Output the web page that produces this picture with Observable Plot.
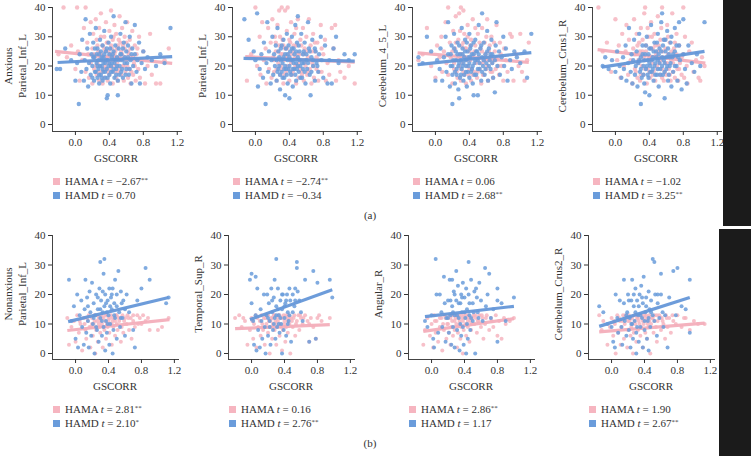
<!DOCTYPE html>
<html><head><meta charset="utf-8">
<script src="https://cdn.jsdelivr.net/npm/d3@7"></script>
<script src="https://cdn.jsdelivr.net/npm/@observablehq/plot@0.6"></script>
<style>
body{margin:0;background:#fff;}
#root{position:relative;width:751px;height:456px;overflow:hidden;font-family:"Liberation Serif","DejaVu Serif",serif;color:#333;font-size:11px;background:#fff;}
.abs{position:absolute;}
.ylab{position:absolute;transform:translate(-50%,-50%) rotate(-90deg);white-space:nowrap;text-align:center;line-height:14px;}
.xlab{position:absolute;transform:translate(-50%,-50%);white-space:nowrap;}
.leg{position:absolute;white-space:nowrap;line-height:14px;transform:translateY(-50%);font-size:11px;}
.sq{display:inline-block;width:7px;height:7px;margin-right:5px;vertical-align:0px;}
sup{font-size:0.65em;vertical-align:0.45em;line-height:0;}
.bar{position:absolute;background:#1b1b1b;}
</style></head>
<body><div id="root"></div>
<script>
// ---------- data ----------
const rowLabels = ["Anxious", "Nonanxious"];
const regions = ["Parietal_Inf_L","Parietal_Inf_L","Cerebelum_4_5_L","Cerebelum_Crus1_R","Parietal_Inf_L","Temporal_Sup_R","Angular_R","Cerebelum_Crus2_R"];
const xTicks = [0, 0.4, 0.8, 1.2];
const yTicks = [0, 10, 20, 30, 40];
const tHama = ["−2.67","−2.74","0.06","−1.02","2.81","0.16","2.86","1.90"];
const starsHama = ["**","**","","","**","","**",""];
const tHamd = ["0.70","−0.34","2.68","3.25","2.10","2.76","1.17","2.67"];
const starsHamd = ["","","**","**","*","**","","**"];
const panelTags = ["(a)", "(b)"];

// regression lines: x start/end and y start/end
const hamaX0 = [-0.24,-0.12,-0.21,-0.21,-0.10,-0.20,-0.10,-0.15];
const hamaX1 = [1.14,1.17,1.10,1.06,1.14,0.95,1.00,1.13];
const hamaY0 = [25.0,23.2,24.5,25.6,7.8,8.4,7.5,7.3];
const hamaY1 = [20.9,21.3,21.2,21.0,11.5,9.8,11.8,10.3];
const hamdX0 = [-0.21,-0.14,-0.21,-0.16,-0.09,-0.02,-0.08,-0.15];
const hamdX1 = [1.14,1.17,1.13,1.05,1.13,0.98,1.00,0.95];
const hamdY0 = [21.2,22.6,20.5,19.6,10.8,11.5,12.5,9.2];
const hamdY1 = [23.2,21.7,24.6,25.0,19.0,21.6,16.0,19.0];

const a1Hama = [[-.2,24],[-.14,40],[-.1,23],[-.05,27],[.02,40],[.0,19],[.03,25],[.05,15],[.08,22],[.1,33],[.12,40],[.12,18],[.14,28],[.15,24],[.16,16],[.18,35],[.18,21],[.2,14],[.2,26],[.21,31],[.22,19],[.23,23],[.24,36],[.25,17],[.25,29],[.26,21],[.27,25],[.28,15],[.28,33],[.29,20],[.3,38],[.3,24],[.31,18],[.32,27],[.32,14],[.33,22],[.34,30],[.34,16],[.35,25],[.36,19],[.36,35],[.37,23],[.38,15],[.38,28],[.39,21],[.4,32],[.4,17],[.41,24],[.42,39],[.42,20],[.43,26],[.44,14],[.44,29],[.45,22],[.46,18],[.46,34],[.47,25],[.48,16],[.48,31],[.49,21],[.5,27],[.5,15],[.51,23],[.52,37],[.52,19],[.53,28],[.54,17],[.55,24],[.55,33],[.56,20],[.57,15],[.58,26],[.58,30],[.59,18],[.6,22],[.61,35],[.62,16],[.62,25],[.63,19],[.64,29],[.65,14],[.66,23],[.67,32],[.68,17],[.69,21],[.7,27],[.71,15],[.72,24],[.74,19],[.75,30],[.76,16],[.78,22],[.8,25],[.82,14],[.85,20],[.88,31],[.9,17],[.95,14],[1.0,14],[1.05,22],[1.1,26],
  [.22,24],[.24,20],[.26,27],[.27,18],[.29,23],[.3,30],[.31,22],[.33,19],[.34,26],[.35,20],[.37,28],[.38,18],[.39,25],[.41,19],[.42,27],[.43,22],[.45,30],[.46,24],[.47,20],[.49,26],[.5,18],[.51,29],[.53,22],[.54,25],[.56,27],[.57,20],[.59,23],[.6,28],[.61,20],[.63,24],[.65,26],[.66,18],[.68,23],[.7,20],[.73,26]];
const a1Hamd = [[-.22,19],[-.18,19],[-.12,26],[-.05,22],[.0,15],[.02,21],[.04,7],[.05,24],[.07,18],[.08,29],[.1,15],[.11,22],[.12,36],[.13,19],[.14,26],[.15,13],[.16,21],[.17,31],[.18,17],[.19,24],[.2,20],[.21,28],[.22,15],[.22,23],[.23,18],[.24,33],[.25,21],[.26,16],[.26,26],[.27,19],[.28,24],[.28,14],[.29,29],[.3,17],[.3,22],[.31,20],[.32,27],[.32,15],[.33,23],[.33,18],[.34,32],[.35,21],[.35,16],[.36,25],[.37,9],[.37,19],[.38,10],[.38,22],[.39,28],[.4,17],[.4,24],[.41,14],[.42,20],[.42,30],[.43,23],[.44,18],[.45,37],[.45,25],[.46,16],[.46,21],[.47,27],[.48,19],[.49,23],[.5,10],[.5,15],[.51,26],[.52,20],[.53,31],[.54,18],[.54,24],[.55,22],[.56,16],[.57,28],[.58,21],[.59,35],[.6,19],[.6,25],[.62,23],[.63,17],[.64,30],[.65,22],[.66,14],[.67,26],[.68,20],[.7,34],[.7,24],[.72,18],[.73,22],[.75,28],[.76,14],[.78,21],[.8,25],[.82,19],[.85,23],[.9,22],[.95,20],[1.0,24],[1.05,21],[1.12,33],
  [.2,16],[.21,23],[.23,26],[.24,18],[.25,24],[.26,20],[.27,22],[.28,17],[.29,20],[.3,25],[.31,16],[.31,23],[.32,19],[.33,21],[.34,24],[.35,18],[.36,22],[.37,26],[.38,16],[.39,20],[.4,21],[.41,26],[.42,18],[.43,21],[.44,24],[.45,19],[.47,22],[.48,17],[.49,20],[.51,22],[.52,17],[.53,24],[.55,19],[.56,26],[.58,23],[.59,17],[.61,21],[.62,27],[.64,19],[.66,24]];
const a2Hama = [[-.1,15],[-.05,24],[.0,40],[.02,20],[.05,30],[.06,17],[.08,35],[.1,22],[.12,26],[.13,14],[.15,33],[.16,19],[.18,28],[.19,16],[.2,36],[.21,23],[.22,18],[.23,30],[.24,25],[.25,15],[.26,34],[.27,21],[.28,39],[.28,27],[.29,17],[.3,24],[.31,40],[.31,19],[.32,29],[.33,14],[.34,22],[.35,39],[.35,26],[.36,18],[.37,32],[.38,20],[.38,40],[.39,24],[.4,15],[.41,28],[.42,21],[.42,35],[.43,17],[.44,25],[.45,19],[.46,31],[.47,23],[.48,14],[.48,27],[.49,20],[.5,36],[.51,16],[.52,24],[.53,29],[.54,18],[.55,22],[.56,33],[.57,15],[.58,26],[.59,20],[.6,30],[.61,17],[.62,23],[.63,36],[.64,19],[.65,27],[.66,14],[.67,21],[.68,31],[.69,16],[.7,25],[.72,19],[.73,28],[.74,15],[.75,22],[.77,34],[.78,18],[.8,24],[.82,29],[.83,15],[.85,21],[.87,17],[.9,33],[.92,26],[.94,34],[.95,15],[.98,22],[1.0,18],[1.05,16],[1.1,20],[1.17,14],
  [.22,22],[.24,28],[.25,19],[.27,25],[.29,30],[.3,20],[.32,24],[.33,27],[.34,17],[.36,23],[.37,26],[.39,19],[.4,29],[.41,22],[.43,24],[.44,18],[.45,27],[.47,20],[.48,33],[.5,24],[.51,21],[.53,19],[.54,27],[.55,17],[.57,24],[.58,21],[.6,25],[.62,18],[.64,22],[.66,25],[.68,20],[.7,28],[.72,23],[.75,18],[.78,26]];
const a2Hamd = [[-.13,36],[-.08,29],[-.02,25],[.0,22],[.02,38],[.03,13],[.05,19],[.07,24],[.09,16],[.1,28],[.12,7],[.13,21],[.14,35],[.15,18],[.16,25],[.18,14],[.19,22],[.2,30],[.21,17],[.22,24],[.23,20],[.24,27],[.25,15],[.26,33],[.27,19],[.28,23],[.29,12],[.3,26],[.31,18],[.32,21],[.33,29],[.34,16],[.35,10],[.35,24],[.36,19],[.37,31],[.38,22],[.38,14],[.39,27],[.4,9],[.4,20],[.41,25],[.42,17],[.43,30],[.44,22],[.44,13],[.45,26],[.46,19],[.47,34],[.48,21],[.48,15],[.49,28],[.5,37],[.5,23],[.51,18],[.52,25],[.53,20],[.54,31],[.55,16],[.56,24],[.57,21],[.58,28],[.59,14],[.6,22],[.61,19],[.62,35],[.63,26],[.64,17],[.65,10],[.66,23],[.67,29],[.68,20],[.7,15],[.71,25],[.72,21],[.74,18],[.75,24],[.77,30],[.78,22],[.8,16],[.82,27],[.85,14],[.87,22],[.9,14],[.92,26],[.95,30],[.98,21],[1.05,24],[1.1,22],[1.17,24],
  [.25,22],[.26,18],[.27,25],[.28,20],[.29,17],[.3,22],[.31,27],[.32,16],[.33,23],[.34,19],[.35,20],[.36,26],[.37,17],[.38,24],[.39,19],[.4,23],[.41,18],[.42,22],[.43,26],[.44,19],[.45,21],[.46,24],[.47,17],[.48,25],[.49,19],[.5,20],[.51,27],[.52,22],[.53,16],[.55,21],[.56,19],[.57,25],[.58,18],[.6,24],[.62,21],[.64,25],[.66,18],[.68,22],[.7,26],[.73,20]];
const a3Hama = [[-.2,22],[-.15,24],[-.1,33],[-.05,20],[.0,16],[.02,27],[.05,23],[.07,30],[.08,18],[.1,25],[.12,35],[.13,21],[.15,40],[.15,17],[.17,28],[.18,23],[.2,14],[.21,32],[.22,19],[.23,26],[.24,37],[.25,22],[.26,16],[.27,29],[.28,38],[.28,20],[.29,24],[.3,40],[.3,15],[.31,27],[.32,21],[.33,39],[.33,18],[.34,31],[.35,23],[.36,14],[.36,26],[.37,20],[.38,34],[.39,17],[.4,25],[.41,22],[.42,29],[.42,15],[.43,19],[.44,36],[.45,24],[.46,18],[.47,27],[.48,21],[.49,16],[.5,31],[.51,23],[.52,19],[.53,26],[.54,14],[.55,33],[.56,21],[.57,17],[.58,28],[.59,24],[.6,19],[.61,36],[.62,15],[.63,22],[.64,27],[.65,18],[.66,30],[.67,21],[.68,16],[.7,25],[.71,19],[.72,34],[.73,23],[.75,17],[.76,28],[.78,20],[.8,15],[.81,26],[.83,22],[.85,18],[.88,31],[.9,30],[.92,15],[.95,24],[.98,20],[1.0,31],[1.02,18],[1.05,15],[1.08,22],[1.1,28],
  [.2,25],[.22,21],[.24,28],[.25,18],[.27,23],[.29,32],[.3,19],[.31,24],[.33,28],[.34,17],[.35,26],[.37,22],[.38,30],[.4,19],[.41,27],[.43,23],[.44,17],[.46,25],[.47,33],[.49,22],[.5,18],[.52,28],[.53,21],[.55,25],[.56,17],[.58,22],[.6,30],[.61,20],[.63,25],[.65,23],[.67,18],[.69,28],[.71,22],[.74,20],[.77,24]];
const a3Hamd = [[-.2,23],[-.15,21],[-.1,30],[-.05,25],[.0,15],[.02,22],[.05,19],[.06,26],[.08,15],[.1,23],[.12,30],[.13,18],[.15,35],[.15,24],[.17,13],[.18,20],[.19,27],[.2,7],[.2,17],[.21,22],[.22,31],[.23,14],[.24,25],[.25,19],[.26,28],[.27,12],[.28,9],[.28,21],[.29,24],[.3,17],[.31,33],[.32,20],[.32,26],[.33,15],[.34,23],[.35,29],[.36,18],[.36,22],[.37,13],[.38,25],[.39,20],[.4,31],[.4,16],[.41,23],[.42,27],[.43,19],[.44,14],[.45,10],[.45,24],[.46,21],[.47,29],[.48,17],[.49,25],[.5,10],[.5,22],[.51,34],[.52,19],[.53,26],[.54,15],[.55,38],[.55,23],[.56,20],[.57,28],[.58,17],[.59,24],[.6,21],[.61,32],[.62,15],[.63,26],[.64,22],[.65,19],[.66,29],[.67,24],[.68,16],[.7,11],[.7,22],[.71,27],[.72,35],[.73,20],[.75,25],[.76,17],[.78,23],[.8,30],[.81,20],[.83,26],[.85,15],[.88,22],[.9,19],[.93,25],[.96,23],[1.0,21],[1.05,25],[1.08,16],[1.13,31],
  [.18,24],[.2,20],[.22,26],[.23,18],[.24,22],[.25,17],[.26,24],[.27,20],[.28,27],[.29,16],[.3,22],[.31,19],[.32,24],[.33,21],[.34,17],[.35,25],[.36,20],[.37,28],[.38,18],[.39,23],[.4,21],[.41,26],[.42,18],[.43,24],[.44,20],[.45,28],[.46,17],[.47,22],[.48,25],[.5,19],[.51,24],[.52,21],[.54,27],[.55,18],[.57,22],[.59,19],[.61,25],[.63,20],[.65,24],[.67,21]];
const a4Hama = [[-.2,40],[-.15,25],[-.1,28],[-.05,18],[.0,36],[.02,22],[.04,27],[.06,16],[.08,31],[.1,20],[.12,25],[.13,34],[.15,17],[.16,29],[.18,22],[.2,14],[.21,26],[.22,36],[.23,19],[.24,24],[.25,31],[.26,16],[.27,22],[.28,28],[.29,15],[.3,33],[.31,20],[.32,25],[.33,17],[.34,38],[.35,40],[.35,22],[.36,27],[.37,14],[.38,19],[.39,30],[.4,23],[.41,16],[.42,35],[.43,21],[.44,26],[.45,18],[.46,31],[.47,15],[.48,24],[.49,20],[.5,37],[.51,27],[.52,17],[.53,22],[.54,33],[.55,40],[.55,19],[.56,25],[.57,15],[.58,29],[.59,21],[.6,17],[.61,34],[.62,24],[.63,19],[.64,28],[.65,15],[.66,22],[.67,38],[.68,18],[.69,26],[.7,16],[.71,23],[.72,31],[.73,19],[.74,15],[.75,27],[.76,21],[.78,17],[.8,40],[.8,24],[.81,16],[.82,30],[.84,20],[.85,14],[.87,25],[.9,28],[.92,18],[.95,22],[.98,16],[1.0,15],[1.02,23],[1.05,20],
  [.22,24],[.24,18],[.26,27],[.27,21],[.29,25],[.3,17],[.32,29],[.33,23],[.35,19],[.36,25],[.38,33],[.39,22],[.4,18],[.42,26],[.43,30],[.44,17],[.46,23],[.47,27],[.49,19],[.5,25],[.52,21],[.53,29],[.55,16],[.56,23],[.58,18],[.59,26],[.61,21],[.62,30],[.64,17],[.66,25],[.68,21],[.7,28],[.72,24],[.75,19],[.78,23]];
const a4Hamd = [[-.15,20],[-.12,23],[-.08,19],[-.04,22],[.0,18],[.02,25],[.05,20],[.07,16],[.09,23],[.1,19],[.12,27],[.13,15],[.15,21],[.16,33],[.18,18],[.19,24],[.2,14],[.21,22],[.22,29],[.23,17],[.24,20],[.25,25],[.26,13],[.27,21],[.28,31],[.29,18],[.3,7],[.3,23],[.31,16],[.32,27],[.33,20],[.34,14],[.35,11],[.35,24],[.36,19],[.37,30],[.38,22],[.39,16],[.4,10],[.4,26],[.41,20],[.42,34],[.43,18],[.44,23],[.45,15],[.46,28],[.47,21],[.48,25],[.49,17],[.5,31],[.5,22],[.51,13],[.52,26],[.53,19],[.54,35],[.55,38],[.55,23],[.56,17],[.57,29],[.58,9],[.58,21],[.59,25],[.6,19],[.61,32],[.62,15],[.63,24],[.64,20],[.65,28],[.66,13],[.67,23],[.68,18],[.7,33],[.7,25],[.72,20],[.73,15],[.75,35],[.75,27],[.76,22],[.78,12],[.8,36],[.8,24],[.82,19],[.84,14],[.86,27],[.9,21],[.93,18],[.96,24],[1.0,20],[1.05,35],
  [.28,22],[.3,19],[.32,24],[.33,17],[.34,22],[.36,27],[.37,20],[.38,17],[.39,24],[.4,21],[.41,18],[.42,26],[.43,22],[.44,19],[.45,25],[.46,20],[.47,17],[.48,23],[.49,28],[.5,19],[.51,24],[.52,21],[.53,17],[.54,25],[.55,20],[.56,27],[.57,22],[.58,18],[.59,29],[.6,23],[.61,20],[.62,26],[.63,17],[.64,23],[.65,21],[.66,30],[.68,24],[.7,20],[.72,27],[.74,23]];
const b1Hama = [[-.1,12],[-.08,3],[-.05,9],[-.02,11],[.0,4],[.02,13],[.04,7],[.06,10],[.08,1],[.1,12],[.12,8],[.13,5],[.15,11],[.16,13],[.18,2],[.19,9],[.2,12],[.21,6],[.22,10],[.23,13],[.24,0],[.25,8],[.26,11],[.27,4],[.28,12],[.29,9],[.3,7],[.31,13],[.32,10],[.33,2],[.34,12],[.35,8],[.36,11],[.37,5],[.38,13],[.39,9],[.4,12],[.41,7],[.42,10],[.43,13],[.44,3],[.45,11],[.46,9],[.47,12],[.48,6],[.49,13],[.5,10],[.51,8],[.52,12],[.53,11],[.55,4],[.56,9],[.57,13],[.58,7],[.6,12],[.62,10],[.63,13],[.65,8],[.67,12],[.68,5],[.7,11],[.72,9],[.75,13],[.78,12],[.8,10],[.82,13],[.85,11],[.9,8],[1.0,8],[1.05,9],[1.13,12],
  [.05,11],[.11,10],[.14,12],[.17,9],[.2,10],[.23,11],[.26,13],[.28,10],[.3,11],[.32,12],[.34,9],[.36,13],[.38,10],[.4,11],[.42,12],[.44,10],[.46,12],[.48,11],[.5,13],[.54,12],[.59,11],[.64,12],[.7,13],[.76,10],[.88,12]];
const b1Hamd = [[-.08,25],[-.05,11],[-.02,16],[.0,5],[.02,20],[.03,2],[.05,13],[.07,18],[.08,9],[.1,3],[.11,15],[.12,25],[.13,7],[.14,19],[.15,11],[.16,2],[.17,21],[.18,14],[.19,6],[.2,24],[.21,10],[.22,17],[.23,0],[.24,13],[.25,20],[.26,8],[.27,15],[.28,4],[.29,22],[.3,31],[.3,12],[.31,18],[.32,6],[.33,14],[.34,27],[.34,9],[.35,32],[.35,16],[.36,1],[.36,20],[.37,11],[.38,14],[.38,7],[.39,18],[.4,13],[.41,22],[.41,3],[.42,10],[.43,19],[.44,15],[.45,0],[.45,22],[.46,8],[.47,17],[.48,25],[.48,12],[.5,20],[.5,5],[.52,28],[.53,14],[.54,9],[.55,21],[.56,17],[.57,12],[.58,18],[.6,6],[.62,20],[.65,14],[.7,8],[.72,2],[.75,18],[.8,22],[.85,29],[.9,25],[1.1,17],[1.13,19],
  [.15,16],[.22,12],[.25,9],[.27,19],[.3,15],[.32,11],[.33,21],[.37,17],[.39,10],[.42,16],[.44,20],[.47,13],[.5,16],[.55,12],[.6,15]];
const b2Hama = [[-.2,12],[-.15,13],[-.12,9],[-.08,11],[-.05,3],[-.02,8],[.0,12],[.02,5],[.03,10],[.05,13],[.06,2],[.08,9],[.1,11],[.11,6],[.12,13],[.14,8],[.15,12],[.16,3],[.18,10],[.19,13],[.2,7],[.21,11],[.22,0],[.23,9],[.24,12],[.25,5],[.26,10],[.27,13],[.28,8],[.29,11],[.3,3],[.31,12],[.32,9],[.33,13],[.34,6],[.35,10],[.36,12],[.37,1],[.38,8],[.39,13],[.4,11],[.41,4],[.42,9],[.43,12],[.44,7],[.45,13],[.46,10],[.47,0],[.48,12],[.5,9],[.52,13],[.53,6],[.55,11],[.57,13],[.58,8],[.6,12],[.62,10],[.65,13],[.68,11],[.7,4],[.72,12],[.75,9],[.78,5],[.8,12],[.85,11],[.95,12],
  [-.1,12],[.01,11],[.07,12],[.13,10],[.17,12],[.2,13],[.23,11],[.25,12],[.28,13],[.3,10],[.32,11],[.34,13],[.36,9],[.38,12],[.4,10],[.42,13],[.44,11],[.46,12],[.49,11],[.51,12],[.54,10],[.59,13],[.63,12],[.7,10],[.82,13]];
const b2Hamd = [[-.02,25],[.0,27],[.0,17],[.02,11],[.03,3],[.05,26],[.05,13],[.06,1],[.07,22],[.08,8],[.1,2],[.11,15],[.12,11],[.13,5],[.15,20],[.16,9],[.17,0],[.18,13],[.19,20],[.2,6],[.21,17],[.22,11],[.23,3],[.24,22],[.25,14],[.26,8],[.27,19],[.28,12],[.28,25],[.29,5],[.3,32],[.3,16],[.31,9],[.32,22],[.33,13],[.34,7],[.35,18],[.36,10],[.37,0],[.37,15],[.38,20],[.39,8],[.4,12],[.41,17],[.42,6],[.43,20],[.44,14],[.45,11],[.46,22],[.47,18],[.48,4],[.5,20],[.52,16],[.53,22],[.55,29],[.55,31],[.56,21],[.58,18],[.6,14],[.62,11],[.65,25],[.7,4],[.75,28],[.78,5],[.8,24],[.95,25],[.98,19],
  [.2,12],[.22,9],[.25,18],[.27,10],[.3,13],[.32,15],[.33,10],[.35,12],[.37,20],[.4,16],[.42,18],[.44,10],[.46,13],[.5,14],[.53,18]];
const b3Hama = [[-.1,3],[-.08,8],[-.05,12],[-.02,6],[.0,10],[.02,2],[.03,13],[.05,7],[.06,11],[.08,4],[.1,9],[.12,12],[.13,1],[.15,8],[.16,13],[.18,5],[.19,10],[.2,12],[.21,7],[.22,13],[.23,3],[.24,9],[.25,11],[.26,6],[.27,13],[.28,8],[.29,12],[.3,10],[.31,2],[.32,7],[.33,13],[.34,11],[.35,5],[.36,9],[.37,12],[.38,0],[.39,8],[.4,13],[.41,10],[.42,6],[.43,12],[.44,9],[.45,13],[.46,4],[.47,11],[.48,8],[.5,12],[.52,10],[.53,13],[.55,7],[.56,11],[.58,13],[.6,9],[.62,12],[.63,5],[.65,10],[.67,13],[.7,8],[.72,12],[.75,9],[.78,13],[.8,6],[.82,11],[.85,5],[.9,10],[.95,11],[1.0,12],
  [.04,11],[.1,12],[.14,10],[.17,12],[.2,10],[.23,12],[.25,13],[.28,11],[.3,13],[.32,12],[.34,10],[.36,13],[.38,11],[.4,12],[.42,13],[.44,11],[.46,12],[.49,10],[.51,13],[.54,12],[.57,11],[.61,13],[.66,12],[.73,11],[.88,12]];
const b3Hamd = [[-.08,11],[-.05,9],[.0,13],[.02,5],[.03,2],[.05,32],[.06,20],[.08,7],[.1,20],[.12,14],[.13,9],[.15,26],[.16,17],[.17,4],[.18,12],[.2,18],[.21,7],[.22,25],[.23,13],[.24,3],[.25,25],[.25,16],[.26,9],[.27,21],[.28,2],[.28,13],[.3,28],[.3,18],[.31,8],[.32,23],[.33,12],[.34,1],[.35,17],[.36,6],[.36,20],[.37,14],[.38,9],[.38,24],[.39,3],[.4,19],[.41,12],[.42,0],[.42,22],[.43,15],[.44,5],[.45,31],[.45,20],[.46,13],[.47,8],[.48,25],[.5,17],[.5,11],[.52,21],[.53,0],[.55,19],[.56,14],[.58,24],[.6,18],[.62,11],[.65,29],[.66,16],[.68,20],[.7,27],[.72,12],[.75,15],[.8,22],[.8,18],[.8,4],[.85,17],[.9,11],[1.0,19],
  [.2,12],[.23,18],[.26,14],[.28,20],[.31,13],[.33,17],[.35,10],[.37,19],[.4,14],[.43,10],[.46,17],[.48,12],[.51,14],[.54,22],[.57,12]];
const b4Hama = [[-.15,13],[-.12,8],[-.1,11],[-.05,3],[-.02,9],[.0,12],[.02,6],[.04,10],[.05,0],[.07,13],[.08,7],[.1,11],[.11,3],[.12,9],[.14,13],[.15,5],[.16,10],[.18,12],[.19,2],[.2,8],[.21,13],[.22,11],[.23,6],[.24,9],[.25,12],[.26,0],[.27,7],[.28,13],[.29,10],[.3,4],[.31,12],[.32,8],[.33,11],[.34,13],[.35,6],[.36,9],[.37,12],[.38,2],[.39,10],[.4,13],[.41,7],[.42,11],[.43,5],[.44,12],[.45,9],[.46,13],[.47,0],[.48,10],[.5,12],[.51,7],[.52,13],[.54,9],[.55,4],[.56,11],[.58,13],[.6,8],[.61,12],[.63,10],[.65,5],[.66,13],[.68,9],[.7,12],[.72,7],[.75,11],[.78,10],[.8,13],[.85,9],[.88,12],[.95,8],[1.0,11],[1.05,10],[1.13,10],
  [.03,11],[.09,12],[.13,11],[.17,13],[.2,11],[.23,12],[.25,10],[.28,11],[.3,13],[.32,12],[.34,10],[.36,13],[.38,11],[.4,12],[.42,13],[.44,10],[.46,11],[.49,12],[.52,11],[.55,13],[.59,12],[.62,11],[.67,12],[.74,13],[.9,12]];
const b4Hamd = [[-.15,16],[-.1,14],[-.05,10],[.0,9],[.02,4],[.04,2],[.05,20],[.07,12],[.08,7],[.1,18],[.12,9],[.13,3],[.15,25],[.15,17],[.16,11],[.18,6],[.19,14],[.2,20],[.21,8],[.22,12],[.23,2],[.24,18],[.25,25],[.25,10],[.26,5],[.27,16],[.28,11],[.29,22],[.3,0],[.3,7],[.31,18],[.32,13],[.33,4],[.34,20],[.35,9],[.36,23],[.37,12],[.38,2],[.38,17],[.39,26],[.4,8],[.41,14],[.42,19],[.43,5],[.44,11],[.45,1],[.45,21],[.46,15],[.47,9],[.48,18],[.5,32],[.5,13],[.52,31],[.53,20],[.55,6],[.56,17],[.58,12],[.6,27],[.6,20],[.62,14],[.63,9],[.65,13],[.68,2],[.7,19],[.75,28],[.78,13],[.8,29],[.85,16],[.9,15],[.95,25],[.95,7],
  [.18,13],[.21,18],[.24,10],[.27,20],[.29,14],[.31,9],[.33,16],[.35,13],[.37,19],[.4,11],[.42,16],[.45,12],[.48,14],[.52,11],[.56,20]];

const hamaSets = [a1Hama,a2Hama,a3Hama,a4Hama,b1Hama,b2Hama,b3Hama,b4Hama];
const hamdSets = [a1Hamd,a2Hamd,a3Hamd,a4Hamd,b1Hamd,b2Hamd,b3Hamd,b4Hamd];

// ---------- layout / style ----------
const PINK = "#f6b5c0", BLUE = "#6a9cdb";
const PINK_LINE = "#f3aebb", BLUE_LINE = "#6597d8";
const panelLeft = [0,180,360,540, 0,176,356,536];
const panelTop = [0,0,0,0, 228,228,228,228];
const root = document.getElementById("root");

function el(cls, html, css) {
  const d = document.createElement("div");
  d.className = cls; d.innerHTML = html;
  Object.assign(d.style, css);
  root.append(d);
  return d;
}

for (let i = 0; i < 8; i++) {
  const topRow = i < 4;
  const W = topRow ? 183 : 180;
  const xDomain = topRow ? [-0.27, 1.25] : [-0.28, 1.25];
  const reg = [{x1: hamaX0[i], x2: hamaX1[i], y1: hamaY0[i], y2: hamaY1[i]}];
  const regD = [{x1: hamdX0[i], x2: hamdX1[i], y1: hamdY0[i], y2: hamdY1[i]}];
  const rr = topRow ? 2.2 : 2.0;
  const svg = Plot.plot({
    width: W, height: 170,
    marginLeft: 52, marginRight: W - 52 - (topRow ? 129 : 126), marginTop: 7, marginBottom: 39,
    insetBottom: topRow ? 7 : 6,
    x: {domain: xDomain},
    y: {domain: [0, 40]},
    style: {fontFamily: '"Liberation Serif", "DejaVu Serif", serif', fontSize: "11px", color: "#333", background: "transparent", overflow: "visible"},
    marks: [
      Plot.frame({anchor: "left", stroke: "#444"}),
      Plot.frame({anchor: "bottom", stroke: "#444"}),
      Plot.axisX({ticks: xTicks, tickFormat: d3.format(".1f"), tickSize: 4, tickPadding: 3, label: null}),
      Plot.axisY({ticks: yTicks, tickSize: 4, tickPadding: 3, label: null}),
      Plot.dot(hamaSets[i], {x: d => d[0], y: d => d[1], r: rr, fill: PINK, fillOpacity: 0.85, stroke: "none"}),
      Plot.link(reg, {x1: "x1", y1: "y1", x2: "x2", y2: "y2", stroke: PINK_LINE, strokeWidth: 3.2, strokeOpacity: 0.95}),
      Plot.dot(hamdSets[i], {x: d => d[0], y: d => d[1], r: rr, fill: BLUE, fillOpacity: 0.85, stroke: "none"}),
      Plot.link(regD, {x1: "x1", y1: "y1", x2: "x2", y2: "y2", stroke: BLUE_LINE, strokeWidth: 3.2, strokeOpacity: 0.95})
    ]
  });
  const wrap = document.createElement("div");
  wrap.className = "abs";
  wrap.style.left = panelLeft[i] + "px";
  wrap.style.top = panelTop[i] + "px";
  wrap.append(svg);
  root.append(wrap);

  const ax = panelLeft[i] + 52;
  const yMid = panelTop[i] + 66;
  if (i === 0 || i === 4) {
    el("ylab", rowLabels[i === 0 ? 0 : 1] + "<br>" + regions[i], {left: (ax - 37) + "px", top: yMid + "px"});
  } else {
    el("ylab", regions[i], {left: (ax - 30) + "px", top: yMid + "px"});
  }
  el("xlab", "GSCORR", {left: (ax + (topRow ? 64 : 63)) + "px", top: (panelTop[i] + 158) + "px"});
  const ly = panelTop[i] + 181;
  el("leg", `<span class="sq" style="background:${PINK}"></span>HAMA <i>t</i> = ${tHama[i]}<sup>${starsHama[i]}</sup>`, {left: (ax + 1) + "px", top: ly + "px"});
  el("leg", `<span class="sq" style="background:${BLUE}"></span>HAMD <i>t</i> = ${tHamd[i]}<sup>${starsHamd[i]}</sup>`, {left: (ax + 1) + "px", top: (ly + 14) + "px"});
}
el("xlab", panelTags[0], {left: "370px", top: "215px"});
el("xlab", panelTags[1], {left: "370px", top: "443px"});
el("bar", "", {left: "723px", top: "0px", width: "28px", height: "226px"});
el("bar", "", {left: "719px", top: "229px", width: "32px", height: "227px"});
</script></body></html>
